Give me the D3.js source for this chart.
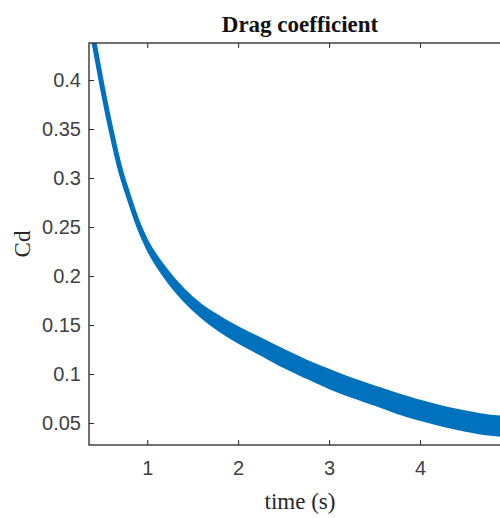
<!DOCTYPE html>
<html>
<head>
<meta charset="utf-8">
<script src="https://cdn.jsdelivr.net/npm/d3@7"></script>
<style>
  html, body { margin: 0; padding: 0; background: #fff; }
  svg { display: block; }
</style>
</head>
<body>
<svg id="chart" width="500" height="518"></svg>
<script>
// Drag coefficient history: oscillating signal drawn as its envelope
const time  = [0.36, 0.42, 0.45, 0.50, 0.60, 0.70, 0.80, 0.90, 1.00, 1.20, 1.40, 1.60, 1.80, 2.00, 2.25, 2.50, 2.75, 3.00, 3.25, 3.50, 3.75, 4.00, 4.25, 4.50, 4.75, 5.00];
const cdMid = [0.465, 0.436, 0.421, 0.396, 0.350, 0.310, 0.280, 0.253, 0.232, 0.203, 0.181, 0.164, 0.151, 0.140, 0.128, 0.116, 0.105, 0.095, 0.086, 0.078, 0.070, 0.063, 0.057, 0.052, 0.048, 0.046];
const cdAmp = [0.001, 0.001, 0.001, 0.0015, 0.002, 0.0025, 0.003, 0.0035, 0.004, 0.005, 0.0055, 0.006, 0.007, 0.0075, 0.008, 0.0085, 0.0085, 0.009, 0.009, 0.009, 0.0095, 0.0095, 0.0095, 0.0095, 0.0095, 0.0095];

const xTicks = [1, 2, 3, 4];
const yTicks = [0.05, 0.1, 0.15, 0.2, 0.25, 0.3, 0.35, 0.4];

const box = { left: 89, top: 43, right: 511, bottom: 445 };
const axisColor = "#262626";
const lineColor = "#0072BD";

const svg = d3.select("#chart");

const x = d3.scaleLinear().domain([0.36, 5.0]).range([box.left, box.right]);
const y = d3.scaleLinear().domain([0.0276, 0.4378]).range([box.bottom, box.top]);

const rows = time.map((t, i) => ({ t, mid: cdMid[i], amp: cdAmp[i] }));

svg.append("defs").append("clipPath").attr("id", "plotClip")
  .append("rect")
  .attr("x", box.left).attr("y", box.top)
  .attr("width", box.right - box.left).attr("height", box.bottom - box.top);

const plot = svg.append("g").attr("clip-path", "url(#plotClip)");

const band = d3.area()
  .x(d => x(d.t))
  .y0(d => y(d.mid - d.amp))
  .y1(d => y(d.mid + d.amp))
  .curve(d3.curveMonotoneX);

const centre = d3.line()
  .x(d => x(d.t))
  .y(d => y(d.mid))
  .curve(d3.curveMonotoneX);

plot.append("path")
  .datum(rows)
  .attr("d", band)
  .attr("fill", lineColor)
  .attr("stroke", lineColor)
  .attr("stroke-width", 2.5)
  .attr("stroke-linejoin", "round");

plot.append("path")
  .datum(rows)
  .attr("d", centre)
  .attr("fill", "none")
  .attr("stroke", lineColor)
  .attr("stroke-width", 5);

// Axes: ticks point inward, box drawn on all four sides
const tickLen = 5;
const xAxisBottom = d3.axisBottom(x).tickValues(xTicks).tickSize(-tickLen).tickPadding(16).tickFormat(d3.format("d"));
const xAxisTop = d3.axisTop(x).tickValues(xTicks).tickSize(-tickLen).tickFormat("");
const yAxisLeft = d3.axisLeft(y).tickValues(yTicks).tickSize(-tickLen).tickPadding(8).tickFormat(d => d3.format("")(+d.toFixed(2)));
const yAxisRight = d3.axisRight(y).tickValues(yTicks).tickSize(-tickLen).tickFormat("");

function styleAxis(g) {
  g.select(".domain").remove();
  g.selectAll(".tick line").attr("stroke", axisColor).attr("stroke-width", 1);
  g.selectAll(".tick text")
    .attr("fill", "#404040")
    .style("font-family", "'Liberation Sans', Arial, sans-serif")
    .style("font-size", "20px");
}

svg.append("g").attr("transform", `translate(0,${box.bottom})`).call(xAxisBottom).call(styleAxis);
svg.append("g").attr("transform", `translate(0,${box.top})`).call(xAxisTop).call(styleAxis);
svg.append("g").attr("transform", `translate(${box.left},0)`).call(yAxisLeft).call(styleAxis);
svg.append("g").attr("transform", `translate(${box.right},0)`).call(yAxisRight).call(styleAxis);

svg.append("rect")
  .attr("x", box.left).attr("y", box.top)
  .attr("width", box.right - box.left).attr("height", box.bottom - box.top)
  .attr("fill", "none")
  .attr("stroke", axisColor)
  .attr("stroke-width", 1.3);

// Titles
svg.append("text")
  .attr("x", (box.left + box.right) / 2)
  .attr("y", 32)
  .attr("text-anchor", "middle")
  .style("font-family", "'Liberation Serif', 'Times New Roman', serif")
  .style("font-weight", "bold")
  .style("font-size", "23px")
  .attr("fill", "#111")
  .text("Drag coefficient");

svg.append("text")
  .attr("x", (box.left + box.right) / 2)
  .attr("y", 509)
  .attr("text-anchor", "middle")
  .style("font-family", "'Liberation Serif', 'Times New Roman', serif")
  .style("font-size", "23px")
  .attr("fill", "#262626")
  .text("time (s)");

svg.append("text")
  .attr("transform", `translate(30,${(box.top + box.bottom) / 2}) rotate(-90)`)
  .attr("text-anchor", "middle")
  .style("font-family", "'Liberation Serif', 'Times New Roman', serif")
  .style("font-size", "23px")
  .attr("fill", "#262626")
  .text("Cd");
</script>
</body>
</html>
